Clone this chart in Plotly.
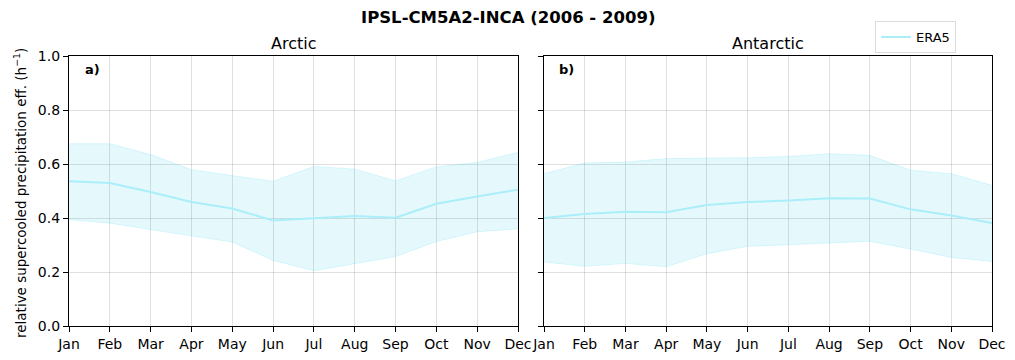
import plotly.graph_objects as go

months = ["Jan", "Feb", "Mar", "Apr", "May", "Jun", "Jul", "Aug", "Sep", "Oct", "Nov", "Dec"]

arctic_mean = [0.536, 0.530, 0.496, 0.459, 0.435, 0.391, 0.399, 0.407, 0.401, 0.453, 0.480, 0.505]
arctic_upper = [0.675, 0.675, 0.635, 0.579, 0.557, 0.536, 0.591, 0.581, 0.538, 0.589, 0.606, 0.643]
arctic_lower = [0.394, 0.381, 0.357, 0.335, 0.311, 0.243, 0.205, 0.231, 0.257, 0.313, 0.349, 0.360]

antarctic_mean = [0.400, 0.415, 0.423, 0.421, 0.448, 0.459, 0.465, 0.473, 0.472, 0.432, 0.409, 0.381]
antarctic_upper = [0.564, 0.604, 0.607, 0.620, 0.622, 0.623, 0.628, 0.638, 0.632, 0.577, 0.564, 0.521]
antarctic_lower = [0.237, 0.221, 0.232, 0.219, 0.268, 0.295, 0.301, 0.307, 0.314, 0.285, 0.254, 0.239]

LINE = "rgb(170,238,250)"
FILL = "rgba(0,200,240,0.1)"
EDGE = "rgba(0,200,240,0.13)"
FONT = "DejaVu Sans"

# page body margin offset (px)
OFF = 8
FW, FH = 1015 - OFF, 360 - OFF

# pixel geometry of the plot areas (in window coordinates)
L, R, T, B = 69, 992, 56, 326
W = R - L
H = B - T

fig = go.Figure()

panels = [
    ("x", "y", arctic_mean, arctic_upper, arctic_lower, True),
    ("x2", "y2", antarctic_mean, antarctic_upper, antarctic_lower, False),
]
for xa, ya, mean, up, lo, show in panels:
    fig.add_trace(go.Scatter(x=months, y=lo, xaxis=xa, yaxis=ya, mode="lines",
                             line=dict(width=1, color=EDGE), showlegend=False, hoverinfo="skip"))
    fig.add_trace(go.Scatter(x=months, y=up, xaxis=xa, yaxis=ya, mode="lines",
                             line=dict(width=1, color=EDGE),
                             fill="tonexty", fillcolor=FILL, showlegend=False, hoverinfo="skip"))
    fig.add_trace(go.Scatter(x=months, y=mean, xaxis=xa, yaxis=ya, mode="lines",
                             line=dict(width=2, color=LINE), name="ERA5", showlegend=show))

xcommon = dict(type="category", range=[0, 11], showline=True, linecolor="black", linewidth=1.2,
               mirror=True, ticks="outside", ticklen=5, tickcolor="black", automargin=False,
               showgrid=True, gridcolor="rgba(0,0,0,0.12)", zeroline=False,
               tickfont=dict(family=FONT, size=14, color="black"))
ycommon = dict(range=[0, 1], dtick=0.2, tickformat=".1f", showline=True, linecolor="black",
               linewidth=1.2, mirror=True, ticks="outside", ticklen=5, tickcolor="black",
               showgrid=True, gridcolor="rgba(0,0,0,0.12)", zeroline=False, automargin=False,
               tickfont=dict(family=FONT, size=14, color="black"))

def px(xp):
    return (xp - L) / W

def py(yp):
    return (B - yp) / H

fig.update_layout(
    width=FW, height=FH,
    margin=dict(l=L - OFF, r=1015 - R, t=T - OFF, b=360 - B, autoexpand=False),
    paper_bgcolor="white", plot_bgcolor="white",
    font=dict(family=FONT, size=14, color="black"),
    xaxis=dict(domain=[0, (518 - L) / W], anchor="y", **xcommon),
    yaxis=dict(domain=[0, 1], anchor="x", **ycommon),
    xaxis2=dict(domain=[(544 - L) / W, 1], anchor="y2", **xcommon),
    yaxis2=dict(domain=[0, 1], anchor="x2", showticklabels=False, **ycommon),
    legend=dict(x=px(956), y=py(21), xanchor="right", yanchor="top",
                bgcolor="white", bordercolor="rgb(220,220,220)", borderwidth=1,
                font=dict(family=FONT, size=13)),
    showlegend=True,
    annotations=[
        dict(text="<b>IPSL-CM5A2-INCA (2006 - 2009)</b>", x=px(508), y=py(17),
             xref="paper", yref="paper", showarrow=False, font=dict(family=FONT, size=16.5),
             xanchor="center", yanchor="middle"),
        dict(text="Arctic", x=px((69 + 518) / 2), y=py(44), xref="paper", yref="paper",
             showarrow=False, font=dict(family=FONT, size=16), xanchor="center", yanchor="middle"),
        dict(text="Antarctic", x=px((544 + 992) / 2), y=py(44), xref="paper", yref="paper",
             showarrow=False, font=dict(family=FONT, size=16), xanchor="center", yanchor="middle"),
        dict(text="<b>a)</b>", x=px(83), y=py(70), xref="paper", yref="paper",
             showarrow=False, font=dict(family=FONT, size=13), xanchor="left", yanchor="middle"),
        dict(text="<b>b)</b>", x=px(557), y=py(70), xref="paper", yref="paper",
             showarrow=False, font=dict(family=FONT, size=13), xanchor="left", yanchor="middle"),
        dict(text="relative supercooled precipitation eff. (h<sup>−1</sup>)", x=px(20), y=py(193),
             xref="paper", yref="paper", showarrow=False, textangle=-90,
             font=dict(family=FONT, size=13.5), xanchor="center", yanchor="middle"),
    ],
)

fig.write_html("out.html")
